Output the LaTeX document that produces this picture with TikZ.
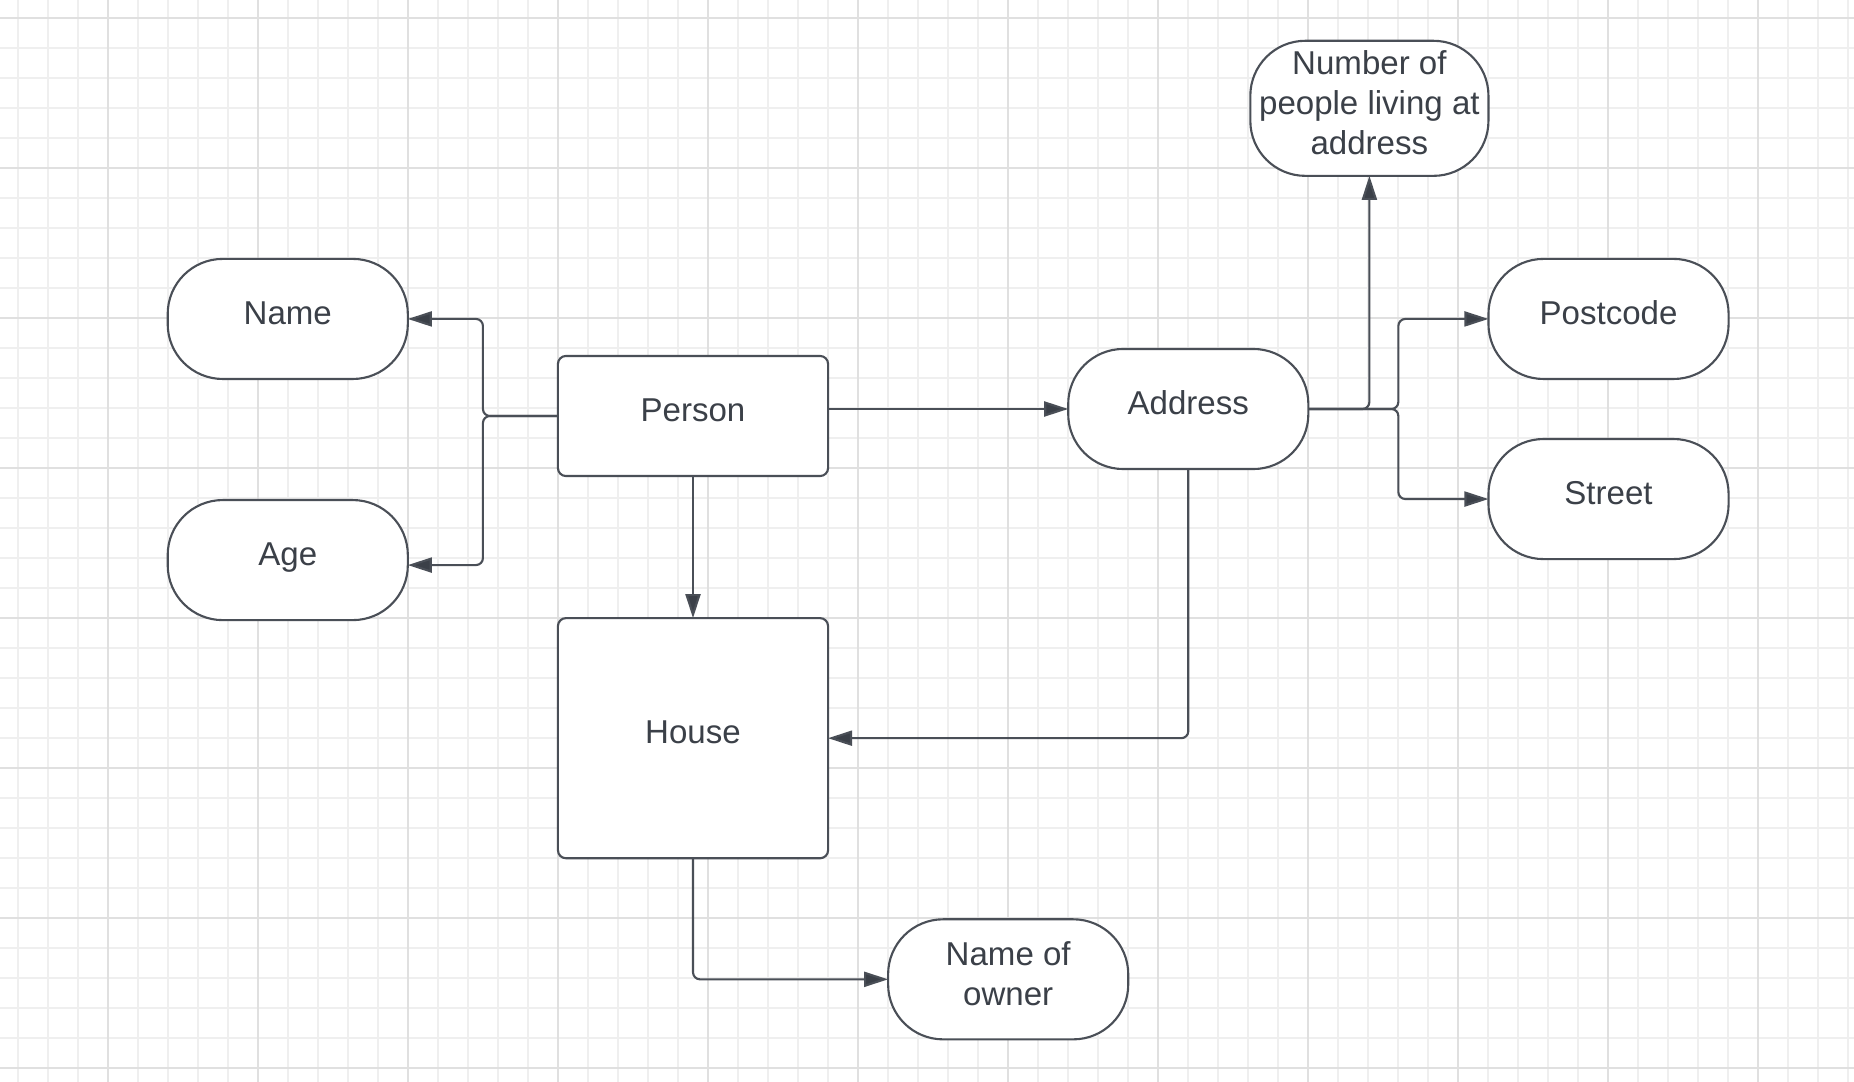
\documentclass[tikz,border=0pt]{standalone}
\usepackage{fontspec}
\setmainfont{Liberation Sans}
\usetikzlibrary{arrows.meta,positioning}
\definecolor{ink}{HTML}{3B4048}
\definecolor{edge}{HTML}{4A4F57}
\definecolor{gridminor}{HTML}{EFEFEF}
\definecolor{gridmajor}{HTML}{E0E0E0}

\begin{document}
\begin{tikzpicture}[
    x=0.01cm, y=-0.01cm,
    font=\fontsize{9.4}{11.3}\selectfont,
    entity/.style={rectangle, draw=edge, fill=white, rounded corners=0.08cm, line width=0.6pt, text=ink, minimum width=2.7cm, minimum height=1.2cm, inner sep=0pt, outer sep=0pt, text depth=3.4pt},
    attr/.style={rectangle, draw=edge, fill=white, rounded corners=0.55cm, line width=0.6pt, text=ink, minimum width=2.4cm, minimum height=1.2cm, inner sep=0pt, outer sep=0pt, align=center, text depth=3.4pt},
    arrow/.style={-{Triangle[length=0.24cm, width=0.15cm, fill=ink]}, draw=edge, line width=0.6pt, rounded corners=0.07cm},
    minorline/.style={draw=gridminor, line width=0.4pt},
    majorline/.style={draw=gridmajor, line width=0.45pt}
]

% Background grid
\useasboundingbox[fill=white] (0,0) rectangle (1854,1082);
\foreach \gx in {18,48,...,1848} \draw[minorline] (\gx,0) -- (\gx,1082);
\foreach \gy in {18,48,...,1068} \draw[minorline] (0,\gy) -- (1854,\gy);
\foreach \gx in {108,258,...,1758} \draw[majorline] (\gx,0) -- (\gx,1082);
\foreach \gy in {18,168,...,1068} \draw[majorline] (0,\gy) -- (1854,\gy);

% Entities
\node[entity] (person) at (693,416) {Person};
\node[entity, minimum height=2.4cm, below=1.42cm of person] (house) {House};

% Person attributes
\node[attr, left=1.5cm of person, yshift=0.97cm] (name) {Name};
\node[attr, below=1.21cm of name] (age) {Age};

% Address and its attributes
\node[attr, right=2.4cm of person, yshift=0.07cm] (address) {Address};
\node[attr, minimum width=2.38cm, minimum height=1.35cm, above=1.73cm of address, xshift=1.81cm] (people) {Number of\\people living at\\address};
\node[attr, right=1.8cm of address, yshift=0.9cm] (postcode) {Postcode};
\node[attr, below=0.6cm of postcode] (street) {Street};

% House attribute
\node[attr, below right=0.61cm and 0.6cm of house] (owner) {Name of\\owner};

% Arrows
\draw[arrow] (person.west) -- ++(-75,0) |- (name.east);
\draw[arrow] (person.west) -- ++(-75,0) |- ([yshift=-0.05cm]age.east);
\draw[arrow] (person.east |- address.west) -- (address.west);
\draw[arrow] (person) -- (house);
\draw[arrow] (address.south) |- (house.east);
\draw[arrow] (house.south) |- (owner.west);
\draw[arrow] (address.east) -| (people.south);
\draw[arrow] (address.east) -- ++(90,0) |- (postcode.west);
\draw[arrow] (address.east) -- ++(90,0) |- (street.west);

\end{tikzpicture}
\end{document}
